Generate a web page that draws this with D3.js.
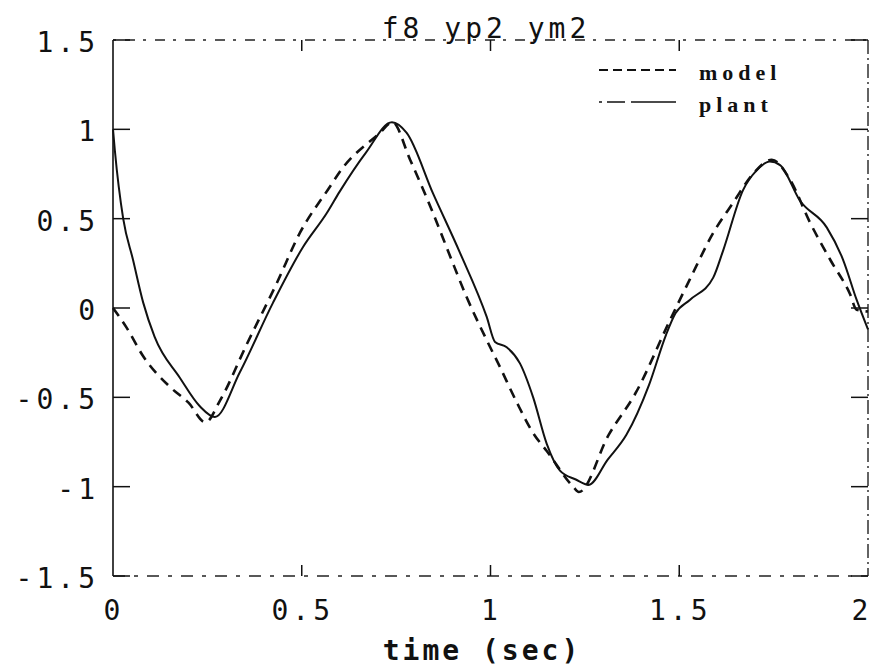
<!DOCTYPE html>
<html>
<head>
<meta charset="utf-8">
<script src="https://cdn.jsdelivr.net/npm/d3@7"></script>
<style>
	body { margin: 0; background: #fff; }
	.tick-label { font-family: "DejaVu Sans Mono", monospace; font-size: 28px; letter-spacing: 4px; fill: #111; }
	.legend-label { font-family: "Liberation Serif", serif; font-size: 22px; letter-spacing: 5px; fill: #111; }
</style>
</head>
<body>
<div id="chart"></div>
<script>
// series
var plantT = [0, 0.005, 0.027, 0.053, 0.08, 0.11, 0.177, 0.23, 0.27, 0.336, 0.424, 0.503, 0.566, 0.60, 0.67, 0.739, 0.778, 0.848, 0.919, 0.99, 1.012, 1.043, 1.078, 1.113, 1.149, 1.184, 1.226, 1.26, 1.31, 1.36, 1.42, 1.465, 1.49, 1.528, 1.59, 1.616, 1.669, 1.705, 1.74, 1.767, 1.82, 1.891, 1.934, 1.97, 2.0];
var plantY = [1.0, 0.88, 0.5, 0.27, 0.03, -0.16, -0.39, -0.55, -0.61, -0.36, 0.03, 0.34, 0.53, 0.65, 0.87, 1.04, 0.98, 0.64, 0.31, -0.05, -0.19, -0.22, -0.31, -0.50, -0.76, -0.91, -0.96, -0.99, -0.85, -0.71, -0.43, -0.15, -0.03, 0.045, 0.17, 0.32, 0.66, 0.77, 0.82, 0.80, 0.60, 0.45, 0.27, 0.045, -0.12];
var modelT = [0, 0.036, 0.08, 0.15, 0.2, 0.245, 0.283, 0.355, 0.434, 0.495, 0.575, 0.60, 0.707, 0.74, 0.787, 0.848, 0.893, 0.937, 0.99, 1.025, 1.07, 1.113, 1.149, 1.219, 1.234, 1.313, 1.386, 1.475, 1.528, 1.59, 1.643, 1.695, 1.745, 1.793, 1.846, 1.9, 1.952, 1.97, 2.0];
var modelY = [0, -0.11, -0.27, -0.44, -0.53, -0.64, -0.52, -0.2, 0.14, 0.42, 0.68, 0.76, 0.98, 1.04, 0.83, 0.53, 0.29, 0.06, -0.18, -0.33, -0.53, -0.70, -0.80, -1.0, -1.03, -0.71, -0.47, -0.07, 0.16, 0.42, 0.59, 0.75, 0.83, 0.72, 0.48, 0.27, 0.08, -0.01, -0.02];

var xTicks = [0, 0.5, 1, 1.5, 2];
var xTickLabels = ["0", "0.5", "1", "1.5", "2"];
var yTicks = [1.5, 1, 0.5, 0, -0.5, -1, -1.5];
var yTickLabels = ["1.5", "1", "0.5", "0", "-0.5", "-1", "-1.5"];
var legendNames = ["model", "plant"];
var titleText = "f8 yp2 ym2";
var xLabelText = "time (sec)";

var W = 872, H = 670;
var margin = { top: 40, right: 4, bottom: 94, left: 113 };
var width = W - margin.left - margin.right,
	height = H - margin.top - margin.bottom;

var svg = d3.select("#chart").append("svg")
	.attr("width", W)
	.attr("height", H);

var g = svg.append("g")
	.attr("transform", "translate(" + margin.left + "," + margin.top + ")");

var xScale = d3.scaleLinear().domain([0, 2]).range([0, width]);
var yScale = d3.scaleLinear().domain([-1.5, 1.5]).range([height, 0]);

// frame, scanned plotter look: left solid, the rest broken
g.append("line").attr("x1", 0).attr("x2", 0).attr("y1", 0).attr("y2", height)
	.attr("stroke", "#111").attr("stroke-width", 1.6);
g.append("line").attr("x1", 0).attr("x2", width).attr("y1", 0).attr("y2", 0)
	.attr("stroke", "#222").attr("stroke-width", 1.3).attr("stroke-dasharray", "3,9,10,8");
g.append("line").attr("x1", 0).attr("x2", width).attr("y1", height).attr("y2", height)
	.attr("stroke", "#222").attr("stroke-width", 1.3).attr("stroke-dasharray", "12,9,4,9");
g.append("line").attr("x1", width).attr("x2", width).attr("y1", 0).attr("y2", height)
	.attr("stroke", "#222").attr("stroke-width", 1.4).attr("stroke-dasharray", "14,4,2,4");

// inward ticks on all four sides
g.selectAll(".ytickL").data(yTicks).enter().append("line")
	.attr("x1", 0).attr("x2", 17)
	.attr("y1", d => yScale(d)).attr("y2", d => yScale(d))
	.attr("stroke", "#111").attr("stroke-width", 1.5);
g.selectAll(".ytickR").data(yTicks).enter().append("line")
	.attr("x1", width).attr("x2", width - 17)
	.attr("y1", d => yScale(d)).attr("y2", d => yScale(d))
	.attr("stroke", "#111").attr("stroke-width", 1.5);
g.selectAll(".xtickT").data(xTicks.slice(1, 4)).enter().append("line")
	.attr("x1", d => xScale(d)).attr("x2", d => xScale(d))
	.attr("y1", 0).attr("y2", 11)
	.attr("stroke", "#111").attr("stroke-width", 1.5);
g.selectAll(".xtickB").data(xTicks.slice(1, 4)).enter().append("line")
	.attr("x1", d => xScale(d)).attr("x2", d => xScale(d))
	.attr("y1", height).attr("y2", height - 11)
	.attr("stroke", "#111").attr("stroke-width", 1.5);

// tick labels
g.selectAll(".ylab").data(yTicks).enter().append("text")
	.attr("class", "tick-label")
	.attr("x", -14)
	.attr("y", d => yScale(d) + 12)
	.attr("text-anchor", "end")
	.text((d, i) => yTickLabels[i]);
g.selectAll(".xlab").data(xTicks).enter().append("text")
	.attr("class", "tick-label")
	.attr("x", d => Math.min(xScale(d) + 1, width - 6)) // last one sits flush at the edge
	.attr("y", height + 44)
	.attr("text-anchor", "middle")
	.text((d, i) => xTickLabels[i]);

// title and axis label
svg.append("text").attr("class", "tick-label")
	.attr("x", 486).attr("y", 38)
	.attr("text-anchor", "middle")
	.text(titleText);
svg.append("text").attr("class", "tick-label")
	.attr("x", 482).attr("y", 660)
	.attr("text-anchor", "middle")
	.style("font-weight", "bold")
	.style("letter-spacing", "3px")
	.text(xLabelText);

// curves
var line = d3.line()
	.x(d => xScale(d[0]))
	.y(d => yScale(d[1]))
	.curve(d3.curveMonotoneX);

var modelData = modelT.map((t, i) => [t, modelY[i]]);
var plantData = plantT.map((t, i) => [t, plantY[i]]);

g.append("path").datum(modelData)
	.attr("d", line)
	.attr("fill", "none")
	.attr("stroke", "#111")
	.attr("stroke-width", 2.6)
	.attr("stroke-dasharray", "10,7");

g.append("path").datum(plantData)
	.attr("d", line)
	.attr("fill", "none")
	.attr("stroke", "#111")
	.attr("stroke-width", 2);

// legend
var legend = svg.append("g").attr("transform", "translate(599,70)");
legend.append("line").attr("x1", 0).attr("x2", 77).attr("y1", 0).attr("y2", 0)
	.attr("stroke", "#111").attr("stroke-width", 2.2).attr("stroke-dasharray", "9,5");
legend.append("line").attr("x1", 0).attr("x2", 77).attr("y1", 32).attr("y2", 32)
	.attr("stroke", "#111").attr("stroke-width", 1.6).attr("stroke-dasharray", "3,5,18,6,45");
legend.selectAll(".legtext").data(legendNames).enter().append("text")
	.attr("class", "legend-label")
	.attr("x", 100)
	.attr("y", (d, i) => 10 + i * 32)
	.style("font-weight", "bold")
	.text(d => d);
</script>
</body>
</html>
